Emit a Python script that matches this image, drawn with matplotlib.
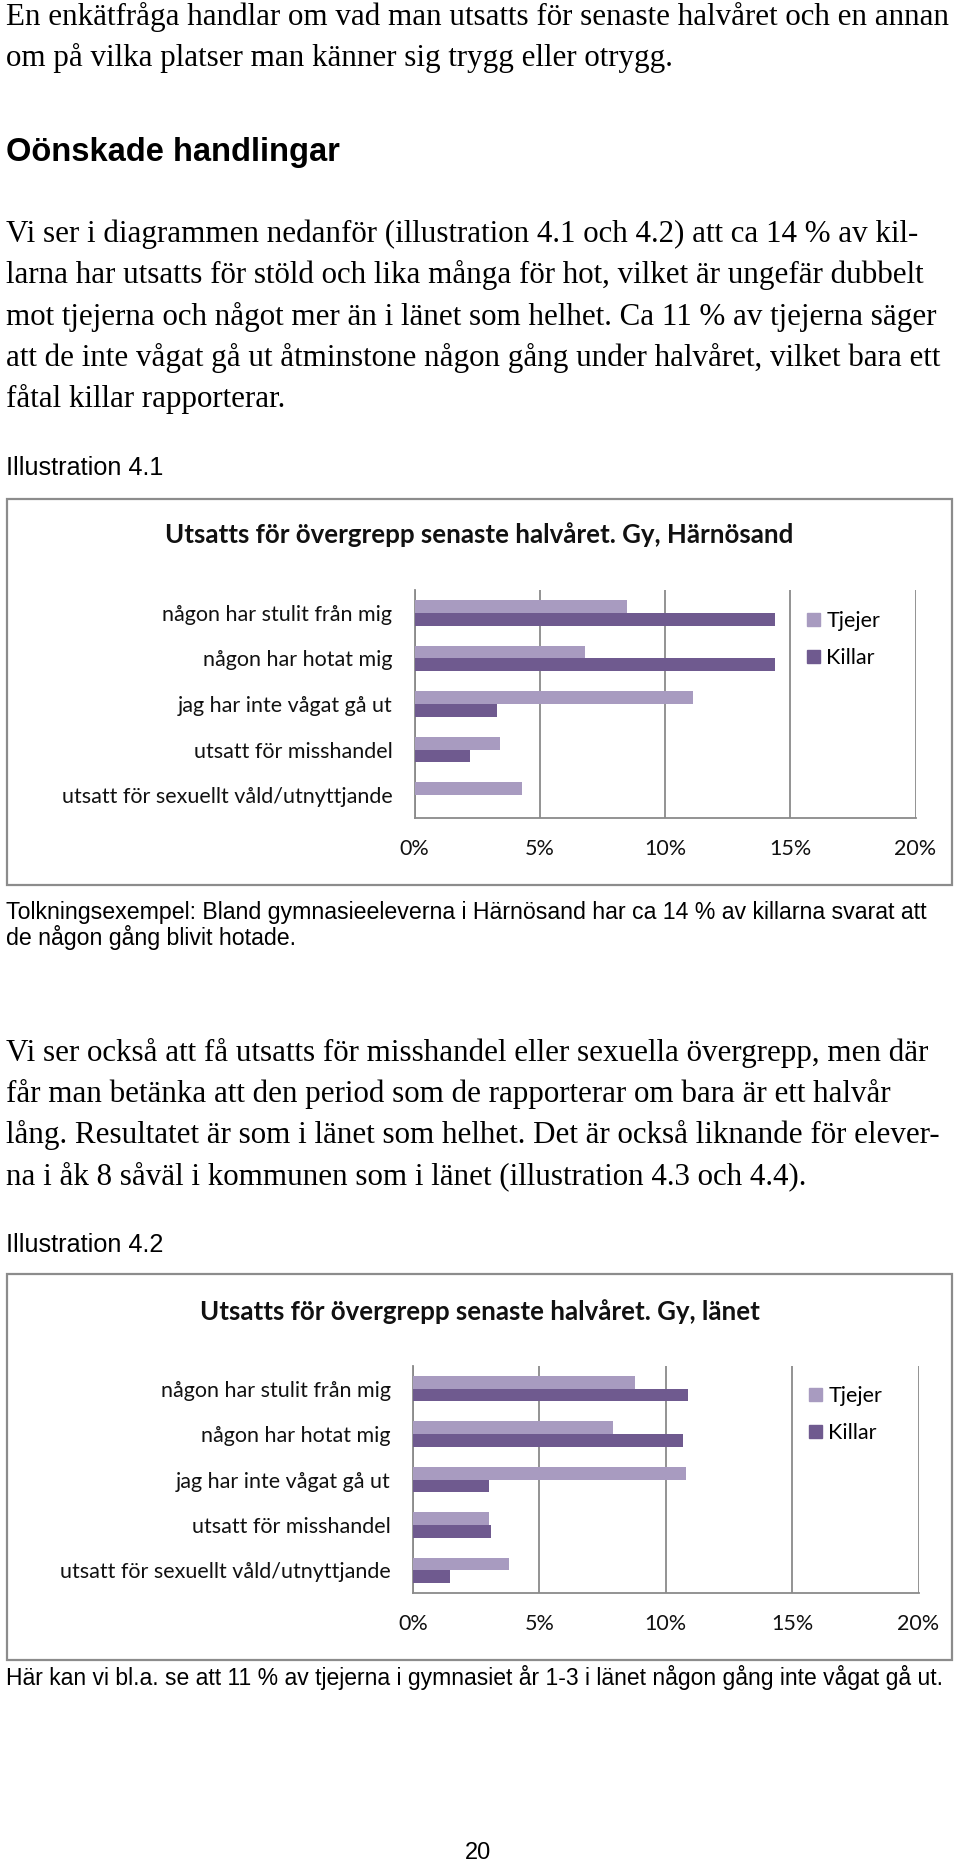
import matplotlib.pyplot as plt
from matplotlib.patches import Rectangle, Patch

W, H = 960, 1861

# chart data (percent)
categories = ['någon har stulit från mig', 'någon har hotat mig', 'jag har inte vågat gå ut',
              'utsatt för misshandel', 'utsatt för sexuellt våld/utnyttjande']
tjejer_harnosand = [8.5, 6.8, 11.1, 3.4, 4.3]
killar_harnosand = [14.4, 14.4, 3.3, 2.2, 0.0]
tjejer_lanet = [8.8, 7.9, 10.8, 3.0, 3.8]
killar_lanet = [10.9, 10.7, 3.0, 3.1, 1.45]
xticks = [0, 5, 10, 15, 20]
xticklabels = ['0%', '5%', '10%', '15%', '20%']

title1 = 'Utsatts för övergrepp senaste halvåret. Gy, Härnösand'
title2 = 'Utsatts för övergrepp senaste halvåret. Gy, länet'

para1 = ['En enkätfråga handlar om vad man utsatts för senaste halvåret och en annan',
         'om på vilka platser man känner sig trygg eller otrygg.']
heading = 'Oönskade handlingar'
para2 = ['Vi ser i diagrammen nedanför (illustration 4.1 och 4.2) att ca 14 % av kil-',
         'larna har utsatts för stöld och lika många för hot, vilket är ungefär dubbelt',
         'mot tjejerna och något mer än i länet som helhet. Ca 11 % av tjejerna säger',
         'att de inte vågat gå ut åtminstone någon gång under halvåret, vilket bara ett',
         'fåtal killar rapporterar.']
caption1 = ['Tolkningsexempel: Bland gymnasieeleverna i Härnösand har ca 14 % av killarna svarat att',
            'de någon gång blivit hotade.']
para3 = ['Vi ser också att få utsatts för misshandel eller sexuella övergrepp, men där',
         'får man betänka att den period som de rapporterar om bara är ett halvår',
         'lång. Resultatet är som i länet som helhet. Det är också liknande för elever-',
         'na i åk 8 såväl i kommunen som i länet (illustration 4.3 och 4.4).']
caption2 = 'Här kan vi bl.a. se att 11 % av tjejerna i gymnasiet år 1-3 i länet någon gång inte vågat gå ut.'

C_TJ = '#a89bc0'
C_KI = '#6f5a8f'
GRID = '#8a8a8a'
CHART_FONT = 'Lato'
CFS = 15.5

fig = plt.figure(figsize=(W / 100, H / 100), dpi=100)


def ftext(x, y, s, **kw):
    # place text by pixel position (y from top)
    fig.text(x / W, 1 - y / H, s, va='center', **kw)


def draw_chart(box, axbox, title, title_y, tj, ki, leg_xy):
    x0, y0, x1, y1 = box
    fig.patches.append(Rectangle((x0 / W, 1 - y1 / H), (x1 - x0) / W, (y1 - y0) / H,
                                 transform=fig.transFigure, fill=False,
                                 edgecolor='#8c8c8c', linewidth=1.6))
    ftext((x0 + x1) / 2, title_y, title, ha='center', fontsize=18.6, fontweight='bold',
          family=CHART_FONT, color='#111111')
    ax_l, ax_t, ax_r, ax_b = axbox
    ax = fig.add_axes([ax_l / W, 1 - ax_b / H, (ax_r - ax_l) / W, (ax_b - ax_t) / H])
    pos = list(range(len(categories)))
    h = 0.28
    ax.barh([p - h / 2 for p in pos], tj, height=h, color=C_TJ, label='Tjejer', zorder=3)
    ax.barh([p + h / 2 for p in pos], ki, height=h, color=C_KI, label='Killar', zorder=3)
    ax.set_ylim(len(categories) - 0.5, -0.5)
    ax.set_xlim(0, 20)
    ax.set_yticks(pos)
    ax.set_yticklabels(categories, family=CHART_FONT, fontsize=CFS, color='#111111')
    ax.set_xticks(xticks)
    ax.set_xticklabels(xticklabels, family=CHART_FONT, fontsize=CFS, color='#111111')
    ax.tick_params(length=0, axis='x', pad=15)
    ax.tick_params(length=0, axis='y', pad=16)
    ax.grid(axis='x', color=GRID, linewidth=1.3, zorder=0)
    for s in ['top', 'right']:
        ax.spines[s].set_visible(False)
    for s in ['left', 'bottom']:
        ax.spines[s].set_color(GRID)
        ax.spines[s].set_linewidth(1.3)
    handles = [Patch(color=C_TJ), Patch(color=C_KI)]
    fig.legend(handles, ['Tjejer', 'Killar'], loc='upper left',
               bbox_to_anchor=(leg_xy[0] / W, 1 - leg_xy[1] / H), frameon=False,
               handlelength=0.6, handleheight=0.6, handletextpad=0.3, labelspacing=0.8,
               borderpad=0, borderaxespad=0, prop={'family': CHART_FONT, 'size': CFS})
    return ax


serif = 'Liberation Serif'
sans = 'Liberation Sans'

# page text
for i, line in enumerate(para1):
    ftext(6, 17 + i * 40.5, line, fontsize=22.3, family=serif)
ftext(6, 152, heading, fontsize=23.5, family=sans, fontweight='bold')
for i, line in enumerate(para2):
    ftext(6, 234 + i * 41.3, line, fontsize=22.3, family=serif)
ftext(6, 468, 'Illustration 4.1', fontsize=18.2, family=sans)

draw_chart((7, 499, 952, 885), (414.6, 590, 915.5, 818), title1, 535,
           tjejer_harnosand, killar_harnosand, (807, 611))

for i, line in enumerate(caption1):
    ftext(6, 912 + i * 25.5, line, fontsize=16.7, family=sans)
for i, line in enumerate(para3):
    ftext(6, 1053 + i * 41, line, fontsize=22.3, family=serif)
ftext(6, 1245, 'Illustration 4.2', fontsize=18.2, family=sans)

draw_chart((7, 1274, 952, 1660), (413, 1366, 918.5, 1593), title2, 1312,
           tjejer_lanet, killar_lanet, (809, 1386))

ftext(6, 1678, caption2, fontsize=16.5, family=sans)
ftext(478, 1853, '20', fontsize=17, family=sans, ha='center')

fig.savefig('out.png', dpi=100, facecolor='white')
